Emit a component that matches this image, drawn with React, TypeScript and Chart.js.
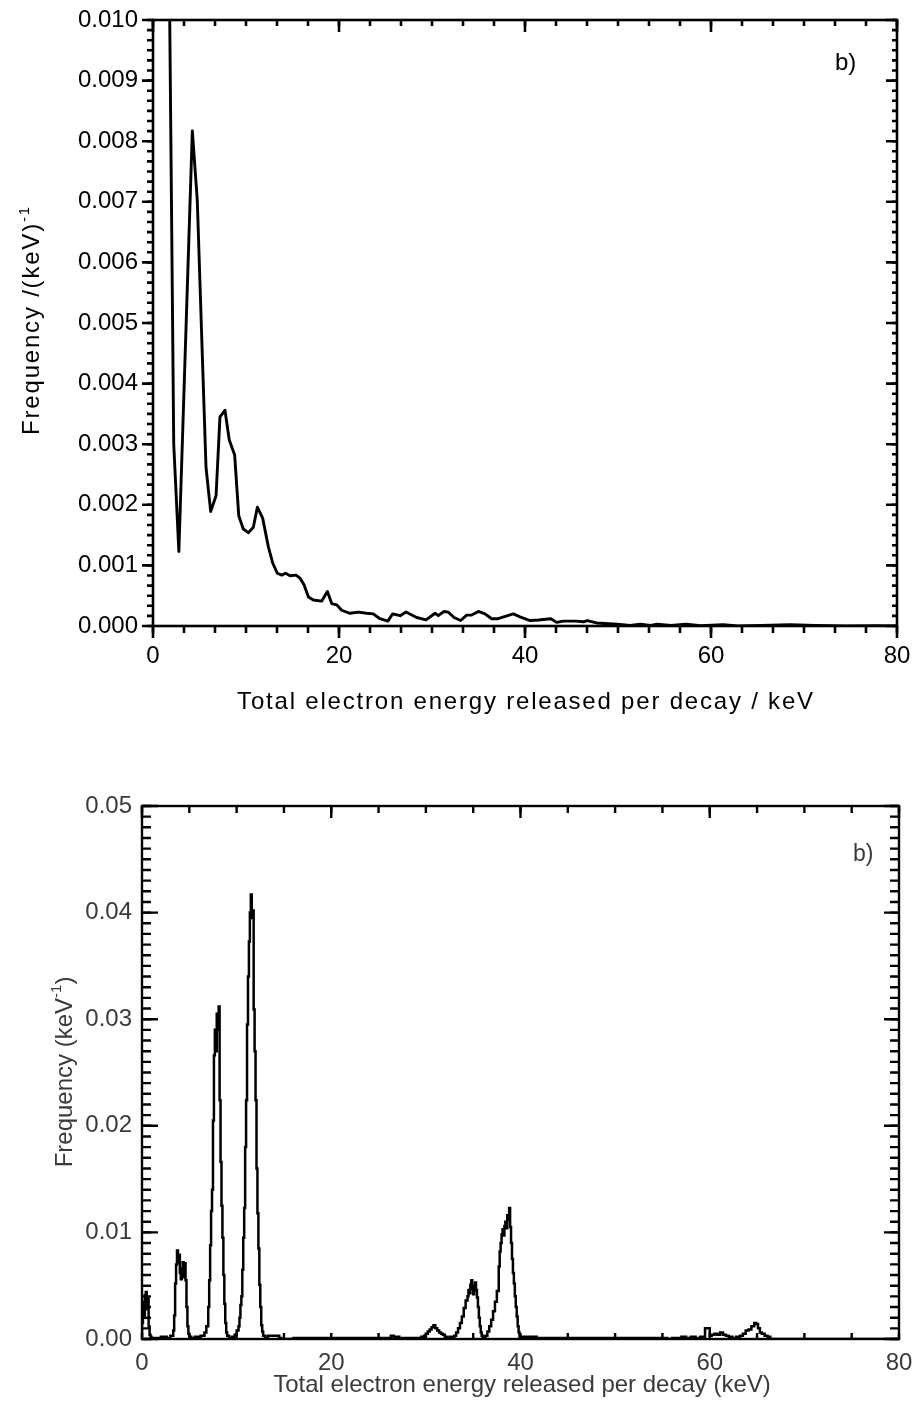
import React, { useEffect, useRef } from "react";
import { Chart, registerables } from "chart.js";

Chart.register(...registerables);

const FONT = "'Liberation Sans', Arial, Helvetica, sans-serif";

// ---------------- Top panel: smooth line spectrum ----------------
const topEnergy = [
  1.0, 2.23, 2.78, 4.23, 4.76, 5.36, 5.7, 6.2, 6.78, 7.2,
  7.74, 8.2, 8.78, 9.22, 9.71, 10.25, 10.79, 11.22, 11.79, 12.4,
  12.87, 13.37, 13.84, 14.26, 14.73, 15.38, 15.8, 16.24, 16.71, 17.24,
  18.13, 18.75, 19.22, 19.75, 20.29, 21.18, 22.08, 22.97, 23.69, 24.4,
  25.25, 25.77, 26.57, 27.2, 28.35, 29.36, 30.33, 30.68, 31.29, 31.74,
  32.37, 33.08, 33.73, 34.27, 34.99, 35.7, 36.42, 37.1, 38.75, 39.46,
  40.54, 41.44, 42.77, 43.4, 44.1, 45.5, 46.3, 46.7, 47.7, 49.9,
  51.3, 52.4, 53.5, 54.2, 55.7, 57.3, 58.9, 61.3, 62.9, 65.4,
  68.5, 71.2, 74.5, 78.0, 79.5, 80.0,
];
const topFrequency = [
  0.023, 0.003, 0.00123, 0.00817, 0.00703, 0.0042, 0.00262, 0.00189, 0.00215, 0.00345,
  0.00356, 0.00307, 0.00282, 0.00182, 0.0016, 0.00154, 0.00163, 0.00196, 0.00178, 0.00131,
  0.00104, 0.00087, 0.00084, 0.00087, 0.00083, 0.00084, 0.00079, 0.00068, 0.00048, 0.00043,
  0.00041, 0.00057, 0.00037, 0.00035, 0.00026, 0.00021, 0.00023, 0.00021, 0.0002, 0.00012,
  0.00008, 0.0002, 0.00017, 0.00023, 0.00014, 0.0001, 0.00021, 0.00017, 0.00024, 0.00023,
  0.00014, 0.00009, 0.00018, 0.00018, 0.00024, 0.0002, 0.00012, 0.00012, 0.0002, 0.00015,
  0.00009, 0.0001, 0.00012, 0.00006, 0.00008, 0.00008, 0.00007, 0.00009, 0.00005, 0.00003,
  0.00001, 0.00003, 0.00001, 0.00003, 0.00001, 0.00003, 0.000005, 0.00002, 0.0, 0.00001,
  0.00002, 0.00001, 0.0, 0.000005, 0.0, 0.0,
];
const topXTicks = [0, 20, 40, 60, 80];
const topYTicks = [0, 0.001, 0.002, 0.003, 0.004, 0.005, 0.006, 0.007, 0.008, 0.009, 0.01];

// ---------------- Bottom panel: step histogram (bin start keV, frequency) ----------------
const histLowPeak: [number, number][] = [
  [0.0, 0.0002], [0.1, 0.0015], [0.2, 0.0035], [0.3, 0.0022], [0.4, 0.0041], [0.5, 0.0044],
  [0.6, 0.0028], [0.7, 0.0038], [0.8, 0.0012], [0.9, 0.0004], [1.0, 0.0002], [1.4, 0.0001],
  [2.0, 0.0001], [2.6, 0.0002], [3.0, 0.0001],
];
const histPeak4: [number, number][] = [
  [3.3, 0.0003], [3.4, 0.0008], [3.5, 0.0022], [3.6, 0.0052], [3.7, 0.007], [3.8, 0.0083],
  [3.9, 0.0072], [4.0, 0.0079], [4.1, 0.0062], [4.2, 0.0056], [4.3, 0.0066], [4.4, 0.0072],
  [4.5, 0.0058], [4.6, 0.0071], [4.7, 0.0055], [4.8, 0.003], [4.9, 0.0012], [5.0, 0.0005],
  [5.2, 0.0002], [5.6, 0.0001], [6.2, 0.0002],
];
const histPeak8: [number, number][] = [
  [6.6, 0.0003], [6.8, 0.0006], [7.0, 0.0012], [7.1, 0.003], [7.2, 0.0055], [7.3, 0.0088],
  [7.4, 0.012], [7.5, 0.014], [7.6, 0.0205], [7.7, 0.0266], [7.8, 0.029], [7.9, 0.027],
  [8.0, 0.0305], [8.1, 0.029], [8.2, 0.0312], [8.3, 0.0224], [8.4, 0.0166], [8.5, 0.0125],
  [8.6, 0.0095], [8.7, 0.006], [8.8, 0.0033], [8.9, 0.0015], [9.0, 0.0006], [9.2, 0.0003],
  [9.5, 0.0001],
];
const histPeak11: [number, number][] = [
  [9.8, 0.0002], [10.0, 0.0004], [10.2, 0.0008], [10.3, 0.0012], [10.4, 0.002], [10.5, 0.0032],
  [10.6, 0.004], [10.7, 0.0065], [10.8, 0.0095], [10.9, 0.0123], [11.0, 0.018], [11.1, 0.0224],
  [11.2, 0.0295], [11.3, 0.034], [11.4, 0.0373], [11.5, 0.04], [11.6, 0.0417], [11.7, 0.0395],
  [11.8, 0.0402], [11.9, 0.0309], [12.0, 0.027], [12.1, 0.0224], [12.2, 0.016], [12.3, 0.0118],
  [12.4, 0.0085], [12.5, 0.0051], [12.6, 0.003], [12.7, 0.0013], [12.8, 0.0007], [13.0, 0.0003],
  [13.3, 0.0001], [14.5, 0.0003], [14.7, 0.0001], [16.0, 0.0],
];
const histMid: [number, number][] = [
  [26.3, 0.0001], [26.6, 0.0003], [26.8, 0.0001], [27.2, 0.0002], [27.5, 0.0], [29.5, 0.0001],
  [29.8, 0.0002], [30.0, 0.0003], [30.2, 0.0005], [30.4, 0.0007], [30.6, 0.0009], [30.8, 0.0011],
  [31.0, 0.0013], [31.2, 0.001], [31.4, 0.0008], [31.6, 0.0006], [31.8, 0.0005], [32.0, 0.0004],
  [32.2, 0.0002], [32.5, 0.0001], [33.0, 0.0002],
];
const histPeak35: [number, number][] = [
  [33.2, 0.0003], [33.4, 0.0006], [33.6, 0.001], [33.8, 0.0015], [34.0, 0.0021], [34.2, 0.0029],
  [34.4, 0.0036], [34.5, 0.004], [34.6, 0.0046], [34.7, 0.0043], [34.8, 0.0051], [34.9, 0.0055],
  [35.0, 0.0047], [35.1, 0.0042], [35.2, 0.005], [35.3, 0.0053], [35.4, 0.0046], [35.5, 0.0039],
  [35.6, 0.003], [35.7, 0.002], [35.8, 0.0012], [35.9, 0.0006], [36.0, 0.0003], [36.1, 0.0001],
];
const histPeak39: [number, number][] = [
  [36.3, 0.0002], [36.5, 0.0003], [36.7, 0.0007], [36.9, 0.0012], [37.1, 0.0018], [37.3, 0.0026],
  [37.5, 0.0035], [37.7, 0.0045], [37.8, 0.0068], [37.9, 0.0082], [38.0, 0.009], [38.1, 0.0098],
  [38.2, 0.0103], [38.3, 0.0097], [38.4, 0.0106], [38.5, 0.011], [38.6, 0.0104], [38.7, 0.0116],
  [38.8, 0.0112], [38.9, 0.0123], [39.0, 0.0105], [39.1, 0.009], [39.2, 0.0075], [39.3, 0.0062],
  [39.4, 0.0052], [39.5, 0.004], [39.6, 0.003], [39.7, 0.0021], [39.8, 0.0012], [39.9, 0.0006],
  [40.0, 0.0002], [40.2, 0.0], [41.7, 0.0002], [41.9, 0.0],
];
const histHigh: [number, number][] = [
  [55.5, 0.0001], [56.0, 0.0], [57.0, 0.0001], [57.5, 0.0002], [58.0, 0.0001], [58.5, 0.0002],
  [59.0, 0.0001], [59.5, 0.0002], [60.0, 0.001], [60.2, 0.0003], [60.5, 0.0004], [60.8, 0.0005],
  [61.1, 0.0004], [61.4, 0.0006], [61.7, 0.0004], [62.0, 0.0003], [62.4, 0.0002], [62.8, 0.0001],
  [63.2, 0.0002], [63.5, 0.0003], [63.8, 0.0005], [64.1, 0.0008], [64.4, 0.0009], [64.7, 0.0012],
  [64.9, 0.0015], [65.1, 0.0014], [65.3, 0.001], [65.5, 0.0006], [65.8, 0.0005], [66.1, 0.0003],
  [66.4, 0.0002], [66.7, 0.0], [80.0, 0.0],
];
const bottomXTicks = [0, 20, 40, 60, 80];
const bottomYTicks = [0, 0.01, 0.02, 0.03, 0.04, 0.05];

// ---------------- helpers ----------------
type Side = "left" | "right" | "top" | "bottom";
interface TickSet { side: Side; values: number[]; len: number } // len > 0 : inward
interface TextPart { text: string; font: string; dy: number }
interface Decor {
  frameWidth: number;
  tickWidth: number;
  ticks: TickSet[];
  textColor: string;
  spacing: number;
  xTitle: { text: string; font: string; x: number; y: number };
  yTitle: { parts: TextPart[]; x: number; y: number };
  tag: { text: string; font: string; x: number; y: number };
}

function steps(min: number, max: number, step: number): number[] {
  const out: number[] = [];
  const n = Math.round((max - min) / step);
  for (let i = 0; i <= n; i++) out.push(min + i * step);
  return out;
}

function makeDecorPlugin(d: Decor) {
  return {
    id: "decor",
    afterDatasetsDraw(chart: any) {
      const { ctx, chartArea: a, scales } = chart;
      ctx.save();
      ctx.strokeStyle = "#000";
      ctx.lineCap = "butt";
      ctx.lineWidth = d.tickWidth;
      for (const set of d.ticks) {
        const horizontal = set.side === "top" || set.side === "bottom";
        const scale = horizontal ? scales.x : scales.y;
        ctx.beginPath();
        for (const v of set.values) {
          const p = scale.getPixelForValue(v);
          if (horizontal) {
            const y0 = set.side === "top" ? a.top : a.bottom;
            const dir = set.side === "top" ? 1 : -1;
            ctx.moveTo(p, y0);
            ctx.lineTo(p, y0 + dir * set.len);
          } else {
            const x0 = set.side === "left" ? a.left : a.right;
            const dir = set.side === "left" ? 1 : -1;
            ctx.moveTo(x0, p);
            ctx.lineTo(x0 + dir * set.len, p);
          }
        }
        ctx.stroke();
      }
      ctx.lineWidth = d.frameWidth;
      ctx.strokeRect(a.left, a.top, a.right - a.left, a.bottom - a.top);
      ctx.restore();
    },
    afterDraw(chart: any) {
      const ctx = chart.ctx;
      ctx.save();
      ctx.fillStyle = d.textColor;
      (ctx as any).letterSpacing = d.spacing + "px";
      ctx.font = d.xTitle.font;
      ctx.textAlign = "center";
      ctx.textBaseline = "alphabetic";
      ctx.fillText(d.xTitle.text, d.xTitle.x, d.xTitle.y);
      ctx.save();
      ctx.translate(d.yTitle.x, d.yTitle.y);
      ctx.rotate(-Math.PI / 2);
      ctx.textAlign = "left";
      let total = 0;
      const widths: number[] = [];
      for (const p of d.yTitle.parts) {
        ctx.font = p.font;
        const w = ctx.measureText(p.text).width;
        widths.push(w);
        total += w;
      }
      let x = -total / 2;
      d.yTitle.parts.forEach((p, i) => {
        ctx.font = p.font;
        ctx.fillText(p.text, x, p.dy);
        x += widths[i];
      });
      ctx.restore();
      (ctx as any).letterSpacing = "0px";
      ctx.font = d.tag.font;
      ctx.textAlign = "left";
      ctx.fillText(d.tag.text, d.tag.x, d.tag.y);
      ctx.restore();
    },
  };
}

interface PanelProps {
  width: number;
  height: number;
  top: number;
  build: () => any;
}

function Panel({ width, height, top, build }: PanelProps) {
  const ref = useRef<HTMLCanvasElement>(null);
  useEffect(() => {
    const chart = new Chart(ref.current as HTMLCanvasElement, build());
    return () => chart.destroy();
  }, []);
  return (
    <canvas
      ref={ref}
      width={width}
      height={height}
      style={{ position: "absolute", left: 0, top, width, height, display: "block" }}
    />
  );
}

function axisBase(opts: {
  min: number; max: number; ticks: number[]; size: number; color: string; padding: number;
  fit: (s: any) => void; fmt: (v: number) => string;
}) {
  return {
    type: "linear",
    min: opts.min,
    max: opts.max,
    afterBuildTicks: (s: any) => { s.ticks = opts.ticks.map((v) => ({ value: v })); },
    afterFit: (s: any) => {
      opts.fit(s);
      s.paddingTop = 0;
      s.paddingBottom = 0;
      s.paddingLeft = 0;
      s.paddingRight = 0;
    },
    grid: { display: false, drawTicks: false },
    border: { display: false },
    ticks: {
      autoSkip: false,
      maxRotation: 0,
      minRotation: 0,
      padding: opts.padding,
      color: opts.color,
      font: { family: FONT, size: opts.size },
      callback: (v: any) => opts.fmt(Number(v)),
    },
  };
}

const TOP_W = 916, TOP_H = 740;
const BOT_W = 916, BOT_H = 665;

function buildTop() {
  const points = topEnergy.map((e, i) => ({ x: e, y: topFrequency[i] }));
  const decor: Decor = {
    frameWidth: 2.6,
    tickWidth: 2.6,
    textColor: "#000",
    spacing: 1.8,
    ticks: [
      { side: "left", values: topYTicks, len: -11 },
      { side: "left", values: steps(0, 0.01, 0.001 / 6), len: -6 },
      { side: "right", values: topYTicks, len: 11 },
      { side: "right", values: steps(0, 0.01, 0.001 / 6), len: 5 },
      { side: "bottom", values: topXTicks, len: -12 },
      { side: "bottom", values: steps(0, 80, 20 / 6), len: -7 },
      { side: "top", values: topXTicks, len: 12 },
      { side: "top", values: steps(0, 80, 20 / 6), len: 6 },
    ],
    xTitle: { text: "Total electron energy released per decay / keV", font: `24px ${FONT}`, x: 526, y: 709 },
    yTitle: {
      x: 39,
      y: 320,
      parts: [
        { text: "Frequency /(keV)", font: `24px ${FONT}`, dy: 0 },
        { text: "-1", font: `15px ${FONT}`, dy: -10 },
      ],
    },
    tag: { text: "b)", font: `24px ${FONT}`, x: 835, y: 70 },
  };
  return {
    type: "line",
    data: {
      datasets: [{
        data: points,
        borderColor: "#000",
        borderWidth: 2.9,
        pointRadius: 0,
        fill: false,
        tension: 0,
        borderJoinStyle: "round",
      }],
    },
    options: {
      responsive: false,
      animation: false,
      events: [],
      layout: { padding: { top: 20, right: TOP_W - 897, bottom: 0, left: 0 } },
      plugins: { legend: { display: false }, tooltip: { enabled: false }, title: { display: false } },
      scales: {
        x: axisBase({
          min: 0, max: 80, ticks: topXTicks, size: 24, color: "#000", padding: 16,
          fit: (s: any) => { s.height = TOP_H - 626; },
          fmt: (v) => String(Math.round(v)),
        }),
        y: axisBase({
          min: 0, max: 0.01, ticks: topYTicks, size: 24, color: "#000", padding: 15,
          fit: (s: any) => { s.width = 153; },
          fmt: (v) => v.toFixed(3),
        }),
      },
    },
    plugins: [makeDecorPlugin(decor)],
  };
}

function buildBottom() {
  const hist = [
    ...histLowPeak, ...histPeak4, ...histPeak8, ...histPeak11,
    ...histMid, ...histPeak35, ...histPeak39, ...histHigh,
  ];
  const points = hist.map(([e, f]) => ({ x: e, y: f }));
  const decor: Decor = {
    frameWidth: 2.4,
    tickWidth: 2.4,
    textColor: "#3a3a3a",
    spacing: 0,
    ticks: [
      { side: "left", values: bottomYTicks, len: 16 },
      { side: "left", values: steps(0, 0.05, 0.001), len: 9 },
      { side: "right", values: bottomYTicks, len: 15 },
      { side: "right", values: steps(0, 0.05, 0.001), len: 9 },
      { side: "top", values: bottomXTicks, len: 12 },
      { side: "top", values: steps(0, 80, 5), len: 7 },
      { side: "bottom", values: steps(0, 80, 5), len: 6 },
    ],
    xTitle: { text: "Total electron energy released per decay (keV)", font: `24px ${FONT}`, x: 522, y: 652 },
    yTitle: {
      x: 72,
      y: 332,
      parts: [
        { text: "Frequency (keV", font: `24px ${FONT}`, dy: 0 },
        { text: "-1", font: `15px ${FONT}`, dy: -11 },
        { text: ")", font: `24px ${FONT}`, dy: 0 },
      ],
    },
    tag: { text: "b)", font: `23px ${FONT}`, x: 853, y: 121 },
  };
  return {
    type: "line",
    data: {
      datasets: [{
        data: points,
        borderColor: "#000",
        borderWidth: 2.5,
        pointRadius: 0,
        fill: false,
        tension: 0,
        stepped: "after",
      }],
    },
    options: {
      responsive: false,
      animation: false,
      events: [],
      layout: { padding: { top: 66, right: BOT_W - 899, bottom: 0, left: 0 } },
      plugins: { legend: { display: false }, tooltip: { enabled: false }, title: { display: false } },
      scales: {
        x: axisBase({
          min: 0, max: 80, ticks: bottomXTicks, size: 24, color: "#3a3a3a", padding: 10,
          fit: (s: any) => { s.height = BOT_H - 599; },
          fmt: (v) => String(Math.round(v)),
        }),
        y: axisBase({
          min: 0, max: 0.05, ticks: bottomYTicks, size: 24, color: "#3a3a3a", padding: 10,
          fit: (s: any) => { s.width = 142; },
          fmt: (v) => v.toFixed(2),
        }),
      },
    },
    plugins: [makeDecorPlugin(decor)],
  };
}

export default function App() {
  return (
    <div style={{ position: "absolute", left: 0, top: 0, width: 916, height: 1405, background: "#fff" }}>
      <Panel width={TOP_W} height={TOP_H} top={0} build={buildTop} />
      <Panel width={BOT_W} height={BOT_H} top={TOP_H} build={buildBottom} />
    </div>
  );
}
